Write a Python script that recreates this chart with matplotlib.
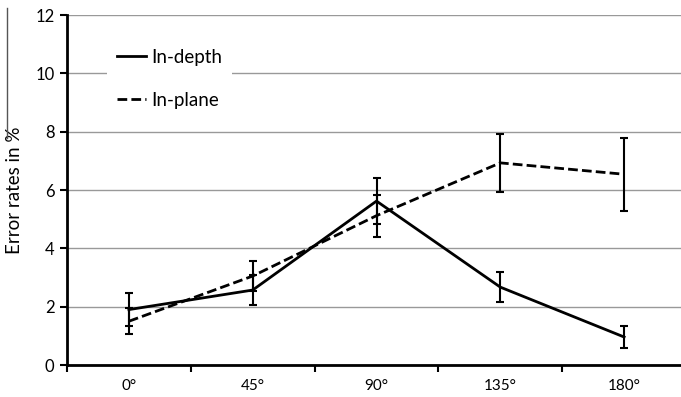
import numpy as np
import matplotlib.pyplot as plt
from matplotlib.lines import Line2D

# values
angles = ['0°', '45°', '90°', '135°', '180°']
in_depth = [1.9, 2.57, 5.62, 2.67, 0.96]
in_depth_err = [0.57, 0.5, 0.8, 0.51, 0.38]
in_plane = [1.5, 3.05, 5.12, 6.93, 6.54]
in_plane_err = [0.45, 0.5, 0.72, 1.0, 1.25]

plt.rcParams['font.family'] = ['Lato', 'DejaVu Sans']

fig = plt.figure(figsize=(6.81, 3.97), dpi=100)
ax = fig.add_axes([67/681, 1 - 365/397, 619/681, 350/397])

x = np.arange(len(angles))

ax.errorbar(x, in_depth, yerr=in_depth_err, color='black', lw=2,
            elinewidth=1.5, capsize=3, capthick=1.5, label='In-depth', zorder=3)
ax.errorbar(x, in_plane, yerr=in_plane_err, color='black', lw=2, ls=(0, (3.5, 1.5)),
            elinewidth=1.5, capsize=3, capthick=1.5, label='In-plane', zorder=3)

ax.set_xlim(-0.5, len(angles) - 0.5)
ax.set_ylim(0, 12)
ax.set_yticks(range(0, 13, 2))
ax.set_xticks(x)
ax.set_xticklabels(angles)
ax.set_xticks(np.arange(-0.5, len(angles)), minor=True)
ax.tick_params(axis='x', which='major', length=0, labelsize=11, pad=10)
ax.tick_params(axis='x', which='minor', length=5, width=1.5, direction='out')
ax.tick_params(axis='y', length=5, width=1.5, direction='out', labelsize=12, pad=4)

ax.yaxis.grid(True, color='#999999', lw=1)
ax.set_axisbelow(True)
for s in ['top', 'right']:
    ax.spines[s].set_visible(False)
for s in ['left', 'bottom']:
    ax.spines[s].set_linewidth(2)

ax.set_ylabel('Error rates in %', fontsize=13.5, labelpad=9)

handles = [Line2D([], [], color='black', lw=2),
           Line2D([], [], color='black', lw=2, ls=(0, (3.5, 1.5)))]
leg = ax.legend(handles, ['In-depth', 'In-plane'], loc='upper left',
                bbox_to_anchor=(0.065, 0.93), fontsize=13.5, frameon=True,
                fancybox=False, edgecolor='none', facecolor='white', framealpha=1,
                handlelength=1.55, handletextpad=0.3, labelspacing=1.38,
                borderpad=0.5, borderaxespad=0)

# thin vertical line at the far left of the picture
fig.add_artist(Line2D([7/681, 7/681], [1 - 8/397, 1 - 138/397], color='#555555', lw=1))

fig.savefig('out.png', dpi=100)
